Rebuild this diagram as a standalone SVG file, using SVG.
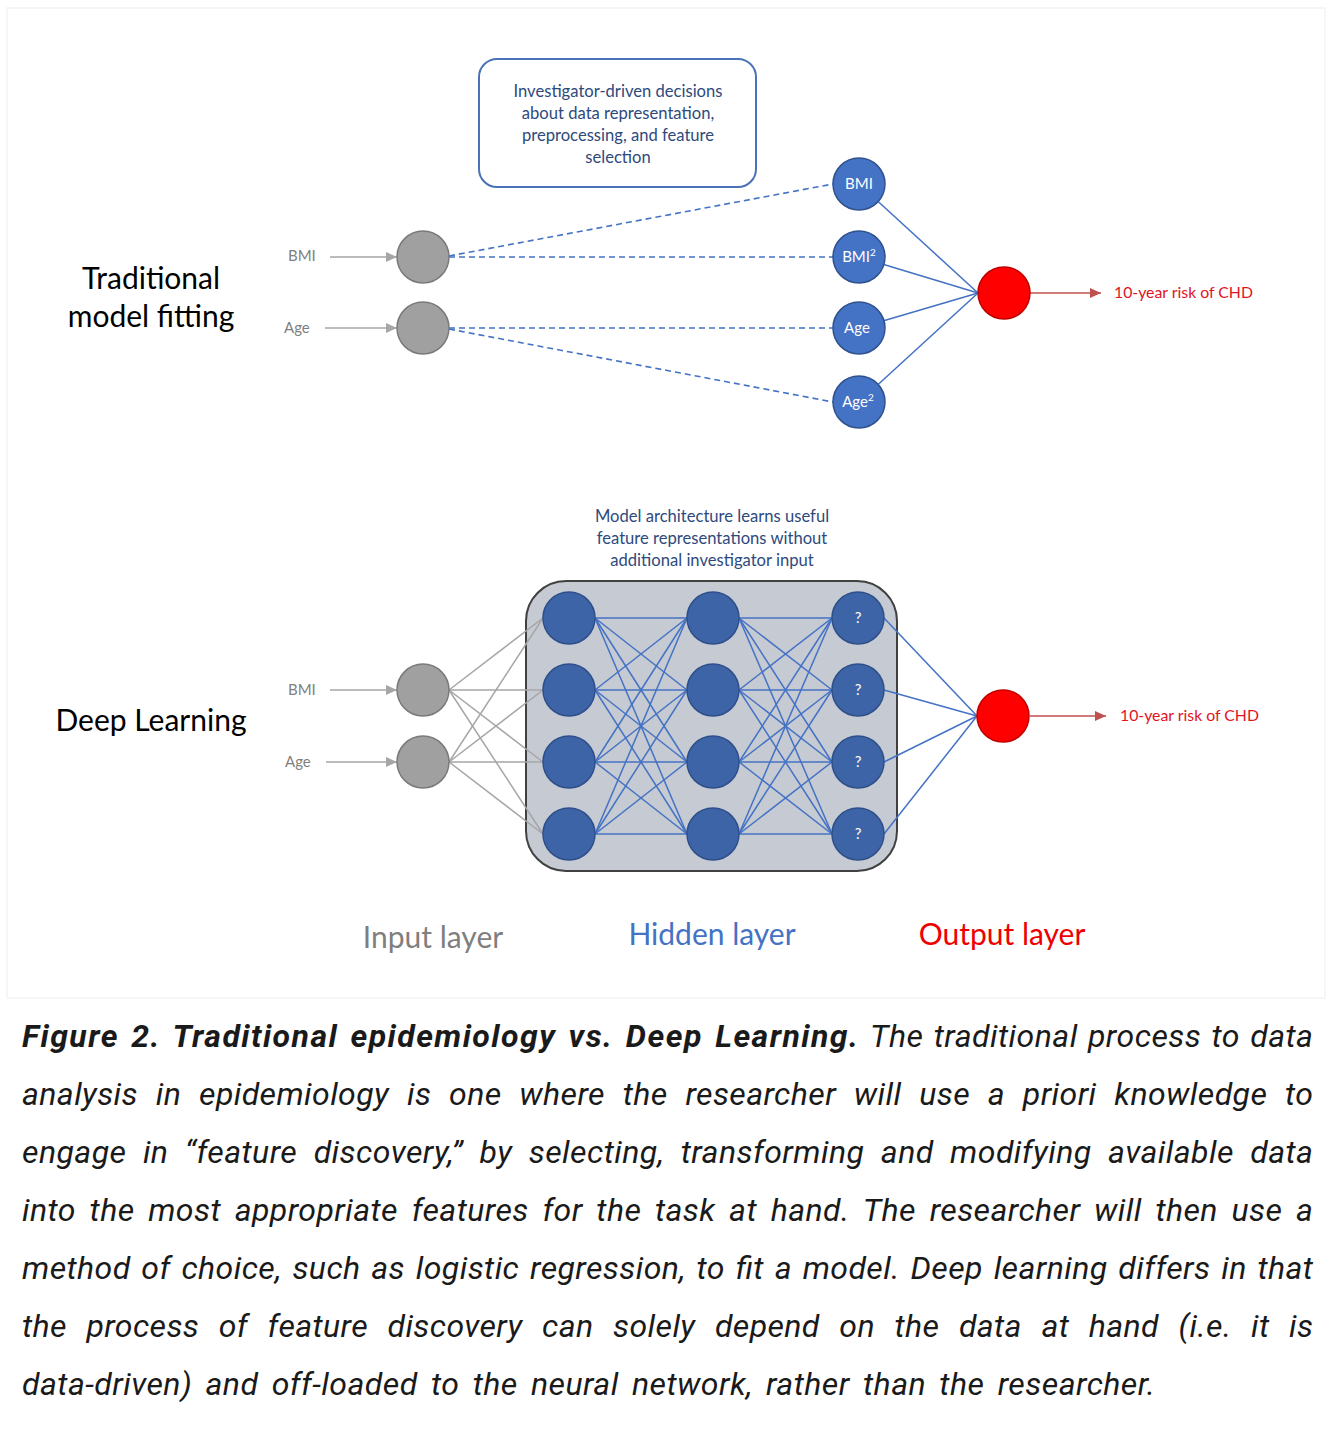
<svg xmlns="http://www.w3.org/2000/svg" width="1326" height="1431" viewBox="0 0 1326 1431">
<defs>
<style>
.lbl{font-family:Lato,"Liberation Sans",sans-serif;}
.in{font-size:15px;fill:#7f7f7f;}
.wht{font-size:15px;fill:#ffffff;text-anchor:middle;}
.note{font-size:16.6px;fill:#2e4a7d;text-anchor:middle;}
.big{font-size:30px;fill:#000;text-anchor:middle;}
.risk{font-size:15.8px;fill:#e0141e;}
.layer{font-size:30px;text-anchor:middle;}
.gray{fill:#a0a0a0;stroke:#7a7a7a;stroke-width:1.5;}
.blue{fill:#4472c4;stroke:#2f528f;stroke-width:1.5;}
.red{fill:#ff0000;stroke:#c00000;stroke-width:1.5;}
.hb{fill:#3e64a8;stroke:#2f4f8a;stroke-width:1.5;}
.bl{stroke:#4472c4;stroke-width:1.5;fill:none;}
.dash{stroke:#4472c4;stroke-width:1.6;stroke-dasharray:6 4;fill:none;}
.gl{stroke:#a6a6a6;stroke-width:1.5;fill:none;}
.ga{stroke:#a6a6a6;stroke-width:1.5;fill:none;marker-end:url(#ag);}
.ra{stroke:#c0504d;stroke-width:1.5;fill:none;marker-end:url(#ar);}
.cap{font-family:Roboto,"Liberation Sans",sans-serif;font-size:32px;font-style:italic;fill:#1a1a1a;}
</style>
<marker id="ag" markerUnits="userSpaceOnUse" markerWidth="12" markerHeight="10" refX="11" refY="5" orient="auto"><path d="M0,0 L11,5 L0,10 Z" fill="#a6a6a6"/></marker>
<marker id="ar" markerUnits="userSpaceOnUse" markerWidth="12" markerHeight="10" refX="11" refY="5" orient="auto"><path d="M0,0 L11,5 L0,10 Z" fill="#c0504d"/></marker>
</defs>
<rect x="0" y="0" width="1326" height="1431" fill="#ffffff"/>
<rect x="7" y="8" width="1318" height="990" fill="#ffffff" stroke="#f6f6f6" stroke-width="2"/>

<g id="connectors">
  <line class="ga" x1="330" y1="257" x2="397" y2="257"/>
  <line class="ga" x1="325" y1="328" x2="397" y2="328"/>
  <line class="dash" x1="449" y1="256" x2="833" y2="184"/>
  <line class="dash" x1="449" y1="257" x2="833" y2="257"/>
  <line class="dash" x1="449" y1="328" x2="833" y2="328"/>
  <line class="dash" x1="449" y1="329" x2="833" y2="402"/>
  <line class="bl" x1="859" y1="184" x2="978" y2="293"/>
  <line class="bl" x1="859" y1="257" x2="978" y2="293"/>
  <line class="bl" x1="859" y1="328" x2="978" y2="293"/>
  <line class="bl" x1="859" y1="402" x2="978" y2="293"/>
  <line class="ra" x1="1030" y1="293" x2="1101" y2="293"/>
  <line class="ga" x1="330" y1="690" x2="397" y2="690"/>
  <line class="ga" x1="326" y1="762" x2="397" y2="762"/>
</g>

<g id="hidden-box">
  <rect x="526" y="581" width="371" height="290" rx="40" ry="40" fill="#c5cad3" stroke="#404040" stroke-width="2"/>
</g>

<g id="connectors-dl">
  <g class="gl">
    <line x1="449" y1="690" x2="543" y2="618"/><line x1="449" y1="690" x2="543" y2="690"/><line x1="449" y1="690" x2="543" y2="762"/><line x1="449" y1="690" x2="543" y2="834"/>
    <line x1="449" y1="762" x2="543" y2="618"/><line x1="449" y1="762" x2="543" y2="690"/><line x1="449" y1="762" x2="543" y2="762"/><line x1="449" y1="762" x2="543" y2="834"/>
  </g>
  <g class="bl">
    <line x1="595" y1="618" x2="687" y2="618"/><line x1="595" y1="618" x2="687" y2="690"/><line x1="595" y1="618" x2="687" y2="762"/><line x1="595" y1="618" x2="687" y2="834"/>
    <line x1="595" y1="690" x2="687" y2="618"/><line x1="595" y1="690" x2="687" y2="690"/><line x1="595" y1="690" x2="687" y2="762"/><line x1="595" y1="690" x2="687" y2="834"/>
    <line x1="595" y1="762" x2="687" y2="618"/><line x1="595" y1="762" x2="687" y2="690"/><line x1="595" y1="762" x2="687" y2="762"/><line x1="595" y1="762" x2="687" y2="834"/>
    <line x1="595" y1="834" x2="687" y2="618"/><line x1="595" y1="834" x2="687" y2="690"/><line x1="595" y1="834" x2="687" y2="762"/><line x1="595" y1="834" x2="687" y2="834"/>
    <line x1="739" y1="618" x2="832" y2="618"/><line x1="739" y1="618" x2="832" y2="690"/><line x1="739" y1="618" x2="832" y2="762"/><line x1="739" y1="618" x2="832" y2="834"/>
    <line x1="739" y1="690" x2="832" y2="618"/><line x1="739" y1="690" x2="832" y2="690"/><line x1="739" y1="690" x2="832" y2="762"/><line x1="739" y1="690" x2="832" y2="834"/>
    <line x1="739" y1="762" x2="832" y2="618"/><line x1="739" y1="762" x2="832" y2="690"/><line x1="739" y1="762" x2="832" y2="762"/><line x1="739" y1="762" x2="832" y2="834"/>
    <line x1="739" y1="834" x2="832" y2="618"/><line x1="739" y1="834" x2="832" y2="690"/><line x1="739" y1="834" x2="832" y2="762"/><line x1="739" y1="834" x2="832" y2="834"/>
    <line x1="884" y1="618" x2="977" y2="716"/><line x1="884" y1="690" x2="977" y2="716"/><line x1="884" y1="762" x2="977" y2="716"/><line x1="884" y1="834" x2="977" y2="716"/>
  </g>
  <line class="ra" x1="1030" y1="716" x2="1106" y2="716"/>
</g>

<g id="note-top">
  <rect x="479" y="59" width="277" height="128" rx="18" ry="18" fill="#ffffff" stroke="#4a72b8" stroke-width="2"/>
  <text class="lbl note"><tspan x="618" y="97">Investigator-driven decisions</tspan><tspan x="618" y="119">about data representation,</tspan><tspan x="618" y="141">preprocessing, and feature</tspan><tspan x="618" y="163">selection</tspan></text>
</g>
<g id="title-traditional"><text class="lbl big"><tspan x="151" y="289">Traditional</tspan><tspan x="151" y="327">model fitting</tspan></text></g>
<g id="t-bmi-label"><text class="lbl in" x="288" y="261">BMI</text></g>
<g id="t-age-label"><text class="lbl in" x="284" y="333">Age</text></g>
<g id="t-in-bmi"><circle class="gray" cx="423" cy="257" r="26"/></g>
<g id="t-in-age"><circle class="gray" cx="423" cy="328" r="26"/></g>
<g id="t-bmi"><circle class="blue" cx="859" cy="184" r="26"/><text class="lbl wht" x="859" y="189">BMI</text></g>
<g id="t-bmi2"><circle class="blue" cx="859" cy="257" r="26"/><text class="lbl wht" x="859" y="262">BMI<tspan font-size="10" dy="-6">2</tspan></text></g>
<g id="t-age"><circle class="blue" cx="859" cy="328" r="26"/><text class="lbl wht" x="857" y="333">Age</text></g>
<g id="t-age2"><circle class="blue" cx="859" cy="402" r="26"/><text class="lbl wht" x="858" y="407">Age<tspan font-size="10" dy="-6">2</tspan></text></g>
<g id="t-out"><circle class="red" cx="1004" cy="293" r="26"/></g>
<g id="t-risk"><text class="lbl risk" x="1114" y="298">10-year risk of CHD</text></g>

<g id="note-dl"><text class="lbl note"><tspan x="712" y="522">Model architecture learns useful</tspan><tspan x="712" y="544">feature representations without</tspan><tspan x="712" y="566">additional investigator input</tspan></text></g>
<g id="title-dl"><text class="lbl big" x="151" y="731">Deep Learning</text></g>
<g id="d-bmi-label"><text class="lbl in" x="288" y="695">BMI</text></g>
<g id="d-age-label"><text class="lbl in" x="285" y="767">Age</text></g>
<g id="d-in-bmi"><circle class="gray" cx="423" cy="690" r="26"/></g>
<g id="d-in-age"><circle class="gray" cx="423" cy="762" r="26"/></g>
<g id="h1-1"><circle class="hb" cx="569" cy="618" r="26"/></g>
<g id="h1-2"><circle class="hb" cx="569" cy="690" r="26"/></g>
<g id="h1-3"><circle class="hb" cx="569" cy="762" r="26"/></g>
<g id="h1-4"><circle class="hb" cx="569" cy="834" r="26"/></g>
<g id="h2-1"><circle class="hb" cx="713" cy="618" r="26"/></g>
<g id="h2-2"><circle class="hb" cx="713" cy="690" r="26"/></g>
<g id="h2-3"><circle class="hb" cx="713" cy="762" r="26"/></g>
<g id="h2-4"><circle class="hb" cx="713" cy="834" r="26"/></g>
<g id="h3-1"><circle class="hb" cx="858" cy="618" r="26"/><text class="lbl wht" x="858" y="623">?</text></g>
<g id="h3-2"><circle class="hb" cx="858" cy="690" r="26"/><text class="lbl wht" x="858" y="695">?</text></g>
<g id="h3-3"><circle class="hb" cx="858" cy="762" r="26"/><text class="lbl wht" x="858" y="767">?</text></g>
<g id="h3-4"><circle class="hb" cx="858" cy="834" r="26"/><text class="lbl wht" x="858" y="839">?</text></g>
<g id="d-out"><circle class="red" cx="1003" cy="716" r="26"/></g>
<g id="d-risk"><text class="lbl risk" x="1120" y="721">10-year risk of CHD</text></g>

<g id="layer-labels">
  <text class="lbl layer" x="433" y="948" fill="#7f7f7f">Input layer</text>
  <text class="lbl layer" x="712" y="945" fill="#4472c4">Hidden layer</text>
  <text class="lbl layer" x="1002" y="945" fill="#ee0000">Output layer</text>
</g>

<g id="caption">
  <text class="cap" x="22" y="1047" font-weight="bold" word-spacing="3" textLength="836" lengthAdjust="spacing">Figure 2. Traditional epidemiology vs. Deep Learning.</text>
  <text class="cap" x="870" y="1047" word-spacing="1.9" textLength="443" lengthAdjust="spacing">The traditional process to data</text>
  <text class="cap" x="22" y="1105" word-spacing="9.5" textLength="1291" lengthAdjust="spacing">analysis in epidemiology is one where the researcher will use a priori knowledge to</text>
  <text class="cap" x="22" y="1163" word-spacing="8.1" textLength="1291" lengthAdjust="spacing">engage in “feature discovery,” by selecting, transforming and modifying available data</text>
  <text class="cap" x="22" y="1221" word-spacing="5.4" textLength="1291" lengthAdjust="spacing">into the most appropriate features for the task at hand. The researcher will then use a</text>
  <text class="cap" x="22" y="1279" word-spacing="2.5" textLength="1291" lengthAdjust="spacing">method of choice, such as logistic regression, to fit a model. Deep learning differs in that</text>
  <text class="cap" x="22" y="1337" word-spacing="11.3" textLength="1291" lengthAdjust="spacing">the process of feature discovery can solely depend on the data at hand (i.e. it is</text>
  <text class="cap" x="22" y="1395" word-spacing="5" textLength="1133" lengthAdjust="spacing">data-driven) and off-loaded to the neural network, rather than the researcher.</text>
</g>
</svg>
